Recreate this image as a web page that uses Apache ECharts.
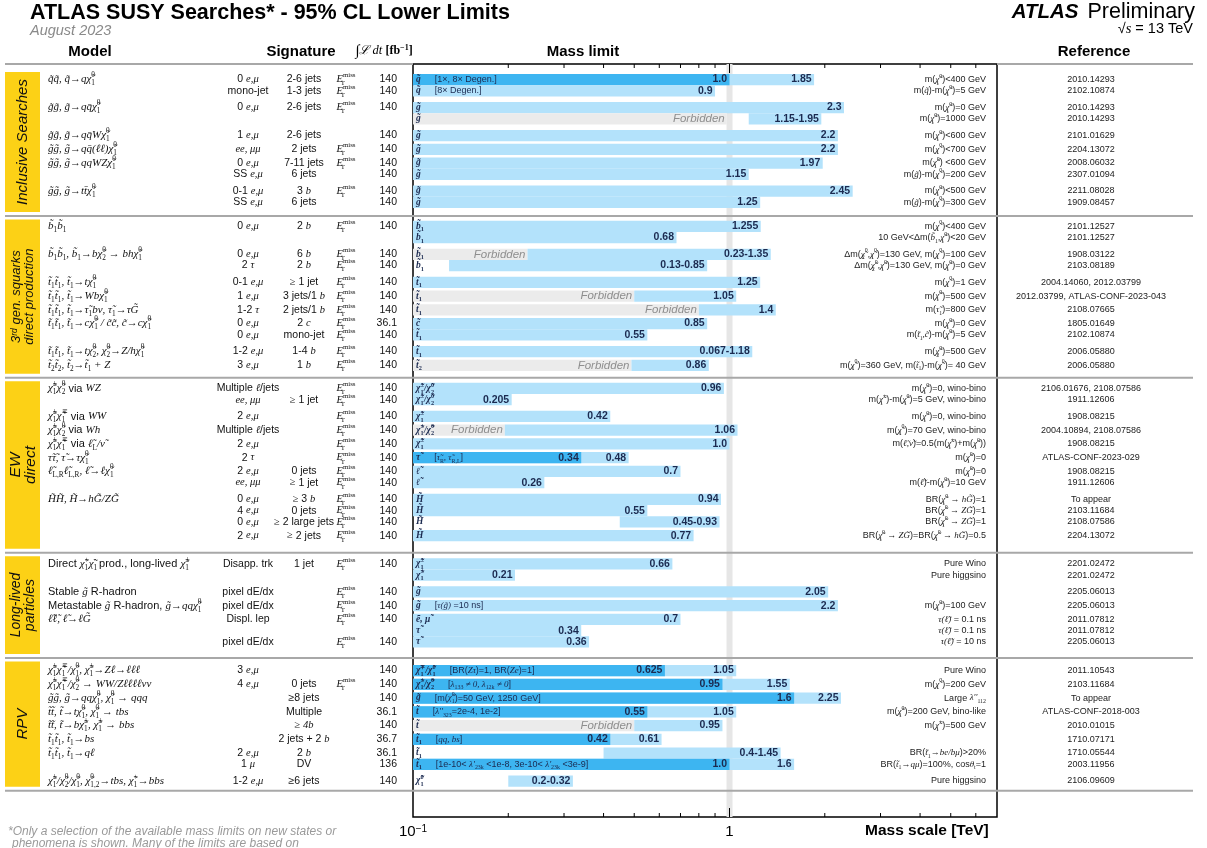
<!DOCTYPE html>
<html><head><meta charset="utf-8">
<script src="https://cdn.jsdelivr.net/npm/echarts/dist/echarts.min.js"></script>
<style>html,body{margin:0;padding:0;background:#fff}#c{width:1207px;height:848px}</style>
</head><body><div id="c"></div>
<script>
// ---------------- DATA ----------------
const sectionNames = ['Inclusive Searches', '3^{rd} gen. squarks\ndirect production', 'EW\ndirect', 'Long-lived\nparticles', 'RPV'];
const sectionSizes = [10, 11, 12, 7, 9];

const models = [
 '$~q~q, ~q→q~χ_1^0$', '',
 '$~g~g, ~g→qq\u0304~χ_1^0$', '',
 '$~g~g, ~g→qq\u0304W~χ_1^0$',
 '$~g~g, ~g→qq\u0304(ℓℓ)~χ_1^0$',
 '$~g~g, ~g→qqWZ~χ_1^0$', '',
 '$~g~g, ~g→tt\u0304~χ_1^0$', '',
 '$~b_1~b_1$', '',
 '$~b_1~b_1, ~b_1→b~χ_2^0 → bh~χ_1^0$', '',
 '$~t_1~t_1, ~t_1→t~χ_1^0$',
 '$~t_1~t_1, ~t_1→Wb~χ_1^0$',
 '$~t_1~t_1, ~t_1→~τ_1bν, ~τ_1→τ~G$',
 '$~t_1~t_1, ~t_1→c~χ_1^0 / ~c~c, ~c→c~χ_1^0$', '',
 '$~t_1~t_1, ~t_1→t~χ_2^0, ~χ_2^0→Z/h~χ_1^0$',
 '$~t_2~t_2, ~t_2→~t_1 + Z$',
 '$~χ_1^±~χ_2^0$ via $WZ$', '',
 '$~χ_1^±~χ_1^∓$ via $WW$',
 '$~χ_1^±~χ_2^0$ via $Wh$',
 '$~χ_1^±~χ_1^∓$ via $~ℓ_L/~ν$',
 '$~τ~τ, ~τ→τ~χ_1^0$',
 '$~ℓ_{L,R}~ℓ_{L,R}, ~ℓ→ℓ~χ_1^0$', '',
 '$~H~H, ~H→h~G/Z~G$', '', '', '',
 'Direct $~χ_1^+~χ_1^-$ prod., long-lived $~χ_1^±$', '',
 'Stable $~g$ R-hadron',
 'Metastable $~g$ R-hadron, $~g→qq~χ_1^0$',
 '$~ℓ~ℓ, ~ℓ→ℓ~G$', '', '',
 '$~χ_1^±~χ_1^∓/~χ_1^0, ~χ_1^±→Zℓ→ℓℓℓ$',
 '$~χ_1^±~χ_1^∓/~χ_2^0 → WW/Zℓℓℓℓνν$',
 '$~g~g, ~g→qq~χ_1^0, ~χ_1^0 → qqq$',
 '$~t~t, ~t→t~χ_1^0, ~χ_1^0 → tbs$',
 '$~t~t, ~t→b~χ_1^±, ~χ_1^± → bbs$',
 '$~t_1~t_1, ~t_1→bs$',
 '$~t_1~t_1, ~t_1→qℓ$', '',
 '$~χ_1^±/~χ_2^0/~χ_1^0, ~χ_{1,2}^0→tbs, ~χ_1^+→bbs$'
];

const sigLeptons = [
 '0 $e,μ$', 'mono-jet', '0 $e,μ$', '', '1 $e,μ$', '$ee, μμ$', '0 $e,μ$', 'SS $e,μ$', '0-1 $e,μ$', 'SS $e,μ$',
 '0 $e,μ$', '', '0 $e,μ$', '2 $τ$', '0-1 $e,μ$', '1 $e,μ$', '1-2 $τ$', '0 $e,μ$', '0 $e,μ$', '1-2 $e,μ$', '3 $e,μ$',
 'Multiple $ℓ$/jets', '$ee, μμ$', '2 $e,μ$', 'Multiple $ℓ$/jets', '2 $e,μ$', '2 $τ$', '2 $e,μ$', '$ee, μμ$', '0 $e,μ$', '4 $e,μ$', '0 $e,μ$', '2 $e,μ$',
 'Disapp. trk', '', 'pixel dE/dx', 'pixel dE/dx', 'Displ. lep', '', 'pixel dE/dx',
 '3 $e,μ$', '4 $e,μ$', '', '', '', '', '2 $e,μ$', '1 $μ$', '1-2 $e,μ$'
];
const sigJets = [
 '2-6 jets', '1-3 jets', '2-6 jets', '', '2-6 jets', '2 jets', '7-11 jets', '6 jets', '3 $b$', '6 jets',
 '2 $b$', '', '6 $b$', '2 $b$', '$≥$ 1 jet', '3 jets/1 $b$', '2 jets/1 $b$', '2 $c$', 'mono-jet', '1-4 $b$', '1 $b$',
 '', '$≥$ 1 jet', '', '', '', '', '0 jets', '$≥$ 1 jet', '$≥$ 3 $b$', '0 jets', '$≥$ 2 large jets', '$≥$ 2 jets',
 '1 jet', '', '', '', '', '', '',
 '', '0 jets', '≥8 jets', 'Multiple', '$≥ 4b$', '2 jets + 2 $b$', '2 $b$', 'DV', '≥6 jets'
];
const sigMet = [
 1,1,1,0,0,1,1,0,1,0,
 1,0,1,1,1,1,1,1,1,1,1,
 1,1,1,1,1,1,1,1,1,1,1,1,
 1,0,1,1,1,0,1,
 0,1,0,0,0,0,0,0,0
];
const lumi = [
 '140','140','140','','140','140','140','140','140','140',
 '140','','140','140','140','140','140','36.1','140','140','140',
 '140','140','140','140','140','140','140','140','140','140','140','140',
 '140','','140','140','140','','140',
 '140','140','140','36.1','140','36.7','36.1','136','140'
];
const particles = [
 '$~q$','$~q$','$~g$','$~g$','$~g$','$~g$','$~g$','$~g$','$~g$','$~g$',
 '$~b_1$','$~b_1$','$~b_1$','$~b_1$','$~t_1$','$~t_1$','$~t_1$','$~c$','$~t_1$','$~t_1$','$~t_2$',
 '$~χ_1^±/~χ_2^0$','$~χ_1^±/~χ_2^0$','$~χ_1^±$','$~χ_1^±/~χ_2^0$','$~χ_1^±$','$~τ$','$~ℓ$','$~ℓ$','$~H$','$~H$','$~H$','$~H$',
 '$~χ_1^±$','$~χ_1^±$','$~g$','$~g$','$~e, ~μ$','$~τ$','$~τ$',
 '$~χ_1^∓/~χ_1^0$','$~χ_1^±/~χ_2^0$','$~g$','$~t$','$~t$','$~t_1$','$~t_1$','$~t_1$','$~χ_1^0$'
];
const notes = [
 '[1×, 8× Degen.]','[8× Degen.]','','','','','','','','',
 '','','','','','','','','','','',
 '','','','','','[$~τ_R, ~τ_{R,L}$]','','','','','','',
 '','','','[$τ(~g)$ =10 ns]','','','',
 '[BR($Zτ$)=1, BR($Ze$)=1]','[$λ_{133} ≠ 0, λ_{12k} ≠ 0$]','[m($~χ_1^0$)=50 GeV, 1250 GeV]',"[$λ''_{323}$=2e-4, 1e-2]",'','[$qq, bs$]','',"[1e-10< $λ'_{23k}$ <1e-8, 3e-10< $λ'_{23k}$ <3e-9]",''
];
// mass limits [TeV]
const limitLow = [
 0.1,0.1,0.1,1.15,0.1,0.1,0.1,0.1,0.1,0.1,
 0.1,0.1,0.23,0.13,0.1,0.5,0.8,0.1,0.1,0.067,0.49,
 0.1,0.1,0.1,0.195,0.1,0.1,0.1,0.1,0.1,0.1,0.45,0.1,
 0.1,0.1,0.1,0.1,0.1,0.1,0.1,
 0.1,0.1,0.1,0.1,0.5,0.1,0.4,0.1,0.2
];
const limitHigh = [
 1.85,0.9,2.3,1.95,2.2,2.2,1.97,1.15,2.45,1.25,
 1.255,0.68,1.35,0.85,1.25,1.05,1.4,0.85,0.55,1.18,0.86,
 0.96,0.205,0.42,1.06,1.0,0.48,0.7,0.26,0.94,0.55,0.93,0.77,
 0.66,0.21,2.05,2.2,0.7,0.34,0.36,
 1.05,1.55,2.25,1.05,0.95,0.61,1.45,1.6,0.32
];
const limitLabels = [
 '1.85','0.9','2.3','1.15-1.95','2.2','2.2','1.97','1.15','2.45','1.25',
 '1.255','0.68','0.23-1.35','0.13-0.85','1.25','1.05','1.4','0.85','0.55','0.067-1.18','0.86',
 '0.96','0.205','0.42','1.06','1.0','0.48','0.7','0.26','0.94','0.55','0.45-0.93','0.77',
 '0.66','0.21','2.05','2.2','0.7','0.34','0.36',
 '1.05','1.55','2.25','1.05','0.95','0.61','0.4-1.45','1.6','0.2-0.32'
];
const darkHigh = [
 1.0,null,null,null,null,null,null,null,null,null,
 null,null,null,null,null,null,null,null,null,null,null,
 null,null,null,null,null,0.34,null,null,null,null,null,null,
 null,null,null,null,null,null,null,
 0.625,0.95,1.6,0.55,null,0.42,null,1.0,null
];
const darkLabels = [
 '1.0','','','','','','','','','',
 '','','','','','','','','','','',
 '','','','','','0.34','','','','','','',
 '','','','','','','',
 '0.625','0.95','1.6','0.55','','0.42','','1.0',''
];
const forbiddenHigh = [
 null,null,null,0.98,null,null,null,null,null,null,
 null,null,0.23,null,null,0.5,0.8,null,null,null,0.49,
 null,null,null,0.195,null,null,null,null,null,null,null,null,
 null,null,null,null,null,null,null,
 null,null,null,null,0.5,null,null,null,null
];
const conditions = [
 'm($~χ_1^0$)<400 GeV','m($~q$)-m($~χ_1^0$)=5 GeV','m($~χ_1^0$)=0 GeV','m($~χ_1^0$)=1000 GeV','m($~χ_1^0$)<600 GeV','m($~χ_1^0$)<700 GeV','m($~χ_1^0$) <600 GeV','m($~g$)-m($~χ_1^0$)=200 GeV','m($~χ_1^0$)<500 GeV','m($~g$)-m($~χ_1^0$)=300 GeV',
 'm($~χ_1^0$)<400 GeV','10 GeV<Δm($~b_1,~χ_1^0$)<20 GeV','Δm($~χ_2^0,~χ_1^0$)=130 GeV, m($~χ_1^0$)=100 GeV','Δm($~χ_2^0,~χ_1^0$)=130 GeV, m($~χ_1^0$)=0 GeV','m($~χ_1^0$)=1 GeV','m($~χ_1^0$)=500 GeV','m($~τ_1$)=800 GeV','m($~χ_1^0$)=0 GeV','m($~t_1,~c$)-m($~χ_1^0$)=5 GeV','m($~χ_2^0$)=500 GeV','m($~χ_1^0$)=360 GeV, m($~t_1$)-m($~χ_1^0$)= 40 GeV',
 'm($~χ_1^0$)=0, wino-bino','m($~χ_1^±$)-m($~χ_1^0$)=5 GeV, wino-bino','m($~χ_1^0$)=0, wino-bino','m($~χ_1^0$)=70 GeV, wino-bino','m($~ℓ,~ν$)=0.5(m($~χ_1^±$)+m($~χ_1^0$))','m($~χ_1^0$)=0','m($~χ_1^0$)=0','m($~ℓ$)-m($~χ_1^0$)=10 GeV','BR($~χ_1^0 → h~G$)=1','BR($~χ_1^0 → Z~G$)=1','BR($~χ_1^0 → Z~G$)=1','BR($~χ_1^0 → Z~G$)=BR($~χ_1^0 → h~G$)=0.5',
 'Pure Wino','Pure higgsino','','m($~χ_1^0$)=100 GeV','$τ(~ℓ)$ = 0.1 ns','$τ(~ℓ)$ = 0.1 ns','$τ(~ℓ)$ = 10 ns',
 'Pure Wino','m($~χ_1^0$)=200 GeV',"Large $λ''_{112}$",'m($~χ_1^0$)=200 GeV, bino-like','m($~χ_1^±$)=500 GeV','','BR($~t_1→be/bμ$)>20%','BR($~t_1→qμ$)=100%, cos$θ_t$=1','Pure higgsino'
];
const references = [
 '2010.14293','2102.10874','2010.14293','2010.14293','2101.01629','2204.13072','2008.06032','2307.01094','2211.08028','1909.08457',
 '2101.12527','2101.12527','1908.03122','2103.08189','2004.14060, 2012.03799','2012.03799, ATLAS-CONF-2023-043','2108.07665','1805.01649','2102.10874','2006.05880','2006.05880',
 '2106.01676, 2108.07586','1911.12606','1908.08215','2004.10894, 2108.07586','1908.08215','ATLAS-CONF-2023-029','1908.08215','1911.12606','To appear','2103.11684','2108.07586','2204.13072',
 '2201.02472','2201.02472','2205.06013','2205.06013','2011.07812','2011.07812','2205.06013',
 '2011.10543','2103.11684','To appear','ATLAS-CONF-2018-003','2010.01015','1710.07171','1710.05544','2003.11956','2106.09609'
];
const tickValues = [0.2,0.3,0.4,0.5,0.6,0.7,0.8,0.9,1,2,3,4,5,6];

// ---------------- LAYOUT ----------------
const X_MIN = 0.1, X_MAX = 7;
const rowGap = [0,0,2,0,2,1,1,0,2,0, 0,0,2,0,2,1,1,1,0,2,1, 0,0,2,1,1,1,1,0,2,0,0,1, 0,0,2,1,1,0,0, 0,1,1,1,1,1,1,0,2];
const GAP_UNITS = [1, 1.222, 1.489];
const padTop = [1.38, 0.92, 0.96, 1.0, 1.12];
const padBottom = [1.22, 1.1, 1.51, 1.42, 0.86];
const sectionFont = [15, 13, 15.5, 14, 15];
const rowY = [], sepY = [0];
(function () {
  let y = 0, r = 0;
  sectionSizes.forEach((n, s) => {
    y += padTop[s];
    for (let k = 0; k < n; k++) { if (k > 0) y += GAP_UNITS[rowGap[r]]; rowY.push(y); r++; }
    y += padBottom[s]; sepY.push(y);
  });
})();
const Y_MAX = sepY[sepY.length - 1] + 2.34;

const SANS = '"Liberation Sans", Arial, Helvetica, sans-serif';
const SERIF = '"Liberation Serif", "Times New Roman", serif';
const LIGHT = '#b3e2fb', DARK = '#3db5f1', FORB = '#ebebeb', BAND = '#e6e6e6', YELLOW = '#fcd116', SEPC = '#a8a8a8', VALTXT = '#1b2a50';
const COL = { model: 48, lep: 248, jets: 304, met: 346, lumi: 397, cond: 986, ref: 1091 };

// ---------- mini markup -> ECharts rich text ----------
function richSet(prefix, size, color, o) {
  o = o || {};
  const lh = o.lh || Math.round(size * 1.4);
  const ss = Math.round(size * 0.66 * 10) / 10;
  const slh = Math.round(size * 0.7);
  const W = o.bold ? 'bold' : 'normal';
  const nSt = o.sansItalic ? 'italic' : 'normal';
  const base = (fam, st, sz, l) => ({ fill: color, fontFamily: fam, fontStyle: st, fontWeight: W, fontSize: sz, lineHeight: l });
  const r = {};
  r[prefix + 'n'] = base(SANS, nSt, size, lh);
  r[prefix + 'm'] = base(SERIF, 'italic', size, lh);
  [['n', SANS, nSt], ['m', SERIF, 'normal']].forEach(([k, fam, st]) => {
    [['u', 'top'], ['d', 'bottom']].forEach(([d, va]) => {
      const s = base(fam, st, ss, slh); s.verticalAlign = va;
      r[prefix + k + d] = s;
      r[prefix + k + d + '0'] = Object.assign({}, s, { width: 0.01 });
    });
  });
  return r;
}
function toRich(src, p) {
  let out = '', buf = '', mode = 'n';
  const flush = () => { if (buf) { out += '{' + p + mode + '|' + buf + '}'; buf = ''; } };
  const grp = (i) => { if (src[i] === '{') { const j = src.indexOf('}', i); return [src.slice(i + 1, j), j]; } return [src[i], i]; };
  for (let i = 0; i < src.length; i++) {
    const c = src[i];
    if (c === '$') { flush(); mode = mode === 'n' ? 'm' : 'n'; continue; }
    if (c === '~') { i++; buf += src[i] + '\u0303'; continue; }
    if (c === '^' || c === '_') {
      flush();
      const k1 = c === '^' ? 'u' : 'd';
      const r1 = grp(i + 1); i = r1[1];
      const nx = src[i + 1];
      if (nx === '^' || nx === '_') {
        const k2 = nx === '^' ? 'u' : 'd';
        const r2 = grp(i + 2); i = r2[1];
        let a = [k1, r1[0]], b = [k2, r2[0]];
        if (b[1].length < a[1].length) { const t = a; a = b; b = t; }
        out += '{' + p + mode + a[0] + '0|' + a[1] + '}{' + p + mode + b[0] + '|' + b[1] + '}';
      } else out += '{' + p + mode + k1 + '|' + r1[0] + '}';
      continue;
    }
    buf += c;
  }
  flush();
  return out;
}
const RICH_MODEL = richSet('a', 11, '#111');
const RICH_SIG = richSet('b', 10.5, '#111');
const RICH_COND = richSet('c', 9, '#222');
const RICH_BAR = Object.assign({}, richSet('p', 9.5, VALTXT, { bold: true }), richSet('q', 9, VALTXT), { sp: { width: 14, fontSize: 9 } });
const RICH_SEC = sectionFont.map((f, s) => richSet('s', f, '#111', { sansItalic: true, lh: Math.round(f * 0.97) }));

// ---------------- SERIES ----------------
const rowIdx = rowY.map((_, i) => i);

const barSeries = {
  type: 'custom', xAxisIndex: 0, yAxisIndex: 0, silent: true, z: 3,
  data: rowIdx.map(i => [limitHigh[i], rowY[i], i]),
  renderItem(params, api) {
    const i = api.value(2), yc = rowY[i];
    const top = api.coord([1, yc - 0.5])[1], bot = api.coord([1, yc + 0.5])[1];
    const h = bot - top, ym = (top + bot) / 2;
    const X = v => api.coord([Math.max(v, X_MIN), yc])[0];
    const kids = [];
    const rect = (lo, hi, fill) => kids.push({ type: 'rect', shape: { x: X(lo), y: top, width: X(hi) - X(lo), height: h }, style: { fill } });
    const val = (txt, v) => kids.push({ type: 'text', x: X(v) - 2.5, y: ym, style: { text: txt, fill: VALTXT, fontFamily: SANS, fontWeight: 'bold', fontSize: 10.5, align: 'right', verticalAlign: 'middle' } });
    if (forbiddenHigh[i] != null) {
      rect(X_MIN, forbiddenHigh[i], FORB);
      kids.push({ type: 'text', x: X(forbiddenHigh[i]) - 2, y: ym, style: { text: 'Forbidden', fill: '#8e8e8e', fontFamily: SANS, fontStyle: 'italic', fontSize: 11.5, align: 'right', verticalAlign: 'middle' } });
    }
    rect(limitLow[i], limitHigh[i], LIGHT);
    if (darkHigh[i] != null) rect(limitLow[i], darkHigh[i], DARK);
    val(limitLabels[i], limitHigh[i]);
    if (darkHigh[i] != null) val(darkLabels[i], darkHigh[i]);
    let t = toRich(particles[i], 'p');
    if (notes[i]) t += '{sp| }' + toRich(notes[i], 'q');
    kids.push({ type: 'text', x: X(X_MIN) + 3, y: ym, style: { text: t, rich: RICH_BAR, align: 'left', verticalAlign: 'middle' } });
    return { type: 'group', children: kids };
  }
};

const bandSeries = {
  type: 'custom', xAxisIndex: 0, yAxisIndex: 0, silent: true, z: 1,
  data: [[1, 0]],
  renderItem(params, api) {
    const x = api.coord([1, 0])[0], y0 = api.coord([1, 0])[1], y1 = api.coord([1, Y_MAX])[1];
    return { type: 'rect', shape: { x: x - 3, y: y0, width: 6, height: y1 - y0 }, style: { fill: BAND } };
  }
};

const tickSeries = {
  type: 'custom', xAxisIndex: 0, yAxisIndex: 0, silent: true, z: 5,
  data: tickValues.map(v => [v, 0]),
  renderItem(params, api) {
    const v = api.value(0);
    const x = api.coord([v, 0])[0], y0 = api.coord([v, 0])[1], y1 = api.coord([v, Y_MAX])[1];
    const L = Math.abs(v - 1) < 1e-9 ? 9 : 4;
    return { type: 'group', children: [
      { type: 'line', shape: { x1: x, y1: y0, x2: x, y2: y0 + L }, style: { stroke: '#000', lineWidth: 1 } },
      { type: 'line', shape: { x1: x, y1: y1, x2: x, y2: y1 - L }, style: { stroke: '#000', lineWidth: 1 } }
    ] };
  }
};

const textSeries = {
  type: 'custom', xAxisIndex: 1, yAxisIndex: 1, silent: true, z: 4,
  data: rowIdx.map(i => [600, rowY[i], i]),
  renderItem(params, api) {
    const i = api.value(2);
    const y = api.coord([0, rowY[i]])[1];
    const X = px => api.coord([px, rowY[i]])[0];
    const kids = [];
    const add = (src, px, align, rich, p) => { if (!src) return; kids.push({ type: 'text', x: X(px), y, style: { text: toRich(src, p), rich, align, verticalAlign: 'middle' } }); };
    add(models[i], COL.model, 'left', RICH_MODEL, 'a');
    add(sigLeptons[i], COL.lep, 'center', RICH_SIG, 'b');
    add(sigJets[i], COL.jets, 'center', RICH_SIG, 'b');
    if (sigMet[i]) add('$E_T^{miss}$', COL.met, 'center', RICH_SIG, 'b');
    add(lumi[i], COL.lumi, 'right', RICH_SIG, 'b');
    add(conditions[i], COL.cond, 'right', RICH_COND, 'c');
    add(references[i], COL.ref, 'center', RICH_COND, 'c');
    return { type: 'group', children: kids };
  }
};

const sepSeries = {
  type: 'custom', xAxisIndex: 1, yAxisIndex: 1, silent: true, z: 2,
  data: sepY.map((v, s) => [600, v, s]),
  renderItem(params, api) {
    const s = api.value(2), y = api.coord([0, sepY[s]])[1];
    const X = px => api.coord([px, 0])[0];
    const seg = (a, b) => ({ type: 'line', shape: { x1: X(a), y1: y, x2: X(b), y2: y }, style: { stroke: SEPC, lineWidth: 2 } });
    if (s === 0) return { type: 'group', children: [seg(5, 413), seg(997, 1193)] };
    return seg(5, 1193);
  }
};

const sectionSeries = {
  type: 'custom', xAxisIndex: 1, yAxisIndex: 1, silent: true, z: 2,
  data: sectionNames.map((_, s) => [20, sepY[s], s]),
  renderItem(params, api) {
    const s = api.value(2);
    const y0 = api.coord([0, sepY[s]])[1] + (s === 0 ? 8 : 3.5);
    const y1 = api.coord([0, sepY[s + 1]])[1] - 4;
    const x0 = api.coord([5, 0])[0], x1 = api.coord([40, 0])[0];
    return { type: 'group', children: [
      { type: 'rect', shape: { x: x0, y: y0, width: x1 - x0, height: y1 - y0 }, style: { fill: YELLOW } },
      { type: 'text', x: (x0 + x1) / 2 + 0.5, y: (y0 + y1) / 2, rotation: Math.PI / 2,
        style: { text: toRich(sectionNames[s], 's'), rich: RICH_SEC[s], align: 'center', verticalAlign: 'middle' } }
    ] };
  }
};

// ---------------- CHART ----------------
const chart = echarts.init(document.getElementById('c'), null, { renderer: 'canvas' });
const hdr = (txt, x) => ({ type: 'text', x, y: 52, style: { text: txt, fill: '#000', fontFamily: SANS, fontWeight: 'bold', fontSize: 15, align: 'center', verticalAlign: 'middle' } });
chart.setOption({
  animation: false,
  backgroundColor: '#fff',
  grid: [
    { left: 413, right: 210, top: 64, bottom: 31, show: true, borderColor: '#000', borderWidth: 1.5, backgroundColor: 'transparent', containLabel: false, outerBoundsMode: 'none' },
    { left: 0, right: 0, top: 64, bottom: 31, show: false, containLabel: false, outerBoundsMode: 'none' }
  ],
  xAxis: [
    { type: 'log', logBase: 10, min: X_MIN, max: X_MAX, gridIndex: 0,
      axisLine: { show: false }, axisTick: { show: false }, splitLine: { show: false }, minorTick: { show: false },
      axisLabel: { margin: 7, showMaxLabel: false,
        formatter: v => Math.abs(v - 0.1) < 1e-9 ? '{a|10}{b|−1}' : (Math.abs(v - 1) < 1e-9 ? '{a|1}' : ''),
        rich: { a: { fontFamily: SANS, fontSize: 15, color: '#000' }, b: { fontFamily: SANS, fontSize: 10, color: '#000', verticalAlign: 'top', lineHeight: 10 } } } },
    { type: 'value', min: 0, max: 1207, gridIndex: 1, show: false }
  ],
  yAxis: [
    { type: 'value', min: 0, max: Y_MAX, inverse: true, gridIndex: 0, show: false },
    { type: 'value', min: 0, max: Y_MAX, inverse: true, gridIndex: 1, show: false }
  ],
  series: [bandSeries, sepSeries, sectionSeries, barSeries, textSeries, tickSeries],
  graphic: [
    { type: 'text', x: 30, y: 13, style: { text: 'ATLAS SUSY Searches* - 95% CL Lower Limits', fill: '#000', fontFamily: SANS, fontWeight: 'bold', fontSize: 21.5, verticalAlign: 'middle' } },
    { type: 'text', x: 30, y: 31, style: { text: 'August 2023', fill: '#8a8a8a', fontFamily: SANS, fontStyle: 'italic', fontSize: 14.5, verticalAlign: 'middle' } },
    { type: 'text', x: 1195, y: 12, style: { text: '{a|ATLAS}{g| }{b|Preliminary}', align: 'right', verticalAlign: 'middle',
        rich: { a: { fontFamily: SANS, fontWeight: 'bold', fontStyle: 'italic', fontSize: 20.5, fill: '#000' }, g: { width: 9, fontSize: 10 }, b: { fontFamily: SANS, fontSize: 21.5, fill: '#000' } } } },
    { type: 'text', x: 1193, y: 29, style: { text: '{a|√}{b|s}{a| = 13 TeV}', align: 'right', verticalAlign: 'middle',
        rich: { a: { fontFamily: SANS, fontSize: 14.5, fill: '#000' }, b: { fontFamily: SERIF, fontStyle: 'italic', fontSize: 14.5, fill: '#000' } } } },
    hdr('Model', 90), hdr('Signature', 301), hdr('Mass limit', 583), hdr('Reference', 1094),
    { type: 'text', x: 384, y: 51, style: { text: '{a|∫}{b|ℒ dt }{c|[fb}{d|−1}{c|]}', align: 'center', verticalAlign: 'middle',
        rich: { a: { fontFamily: SERIF, fontSize: 15, fill: '#000' }, b: { fontFamily: SERIF, fontStyle: 'italic', fontSize: 12.5, fill: '#000' },
                c: { fontFamily: SERIF, fontWeight: 'bold', fontSize: 12, fill: '#000' }, d: { fontFamily: SERIF, fontWeight: 'bold', fontSize: 8, fill: '#000', verticalAlign: 'top', lineHeight: 8 } } } },
    { type: 'text', x: 865, y: 831, style: { text: 'Mass scale [TeV]', fill: '#000', fontFamily: SANS, fontWeight: 'bold', fontSize: 15.5, verticalAlign: 'middle' } },
    { type: 'text', x: 8, y: 832, style: { text: '*Only a selection of the available mass limits on new states or', fill: '#9a9a9a', fontFamily: SANS, fontStyle: 'italic', fontSize: 12, verticalAlign: 'middle' } },
    { type: 'text', x: 12, y: 844, style: { text: 'phenomena is shown. Many of the limits are based on', fill: '#9a9a9a', fontFamily: SANS, fontStyle: 'italic', fontSize: 12, verticalAlign: 'middle' } }
  ]
});
</script></body></html>
